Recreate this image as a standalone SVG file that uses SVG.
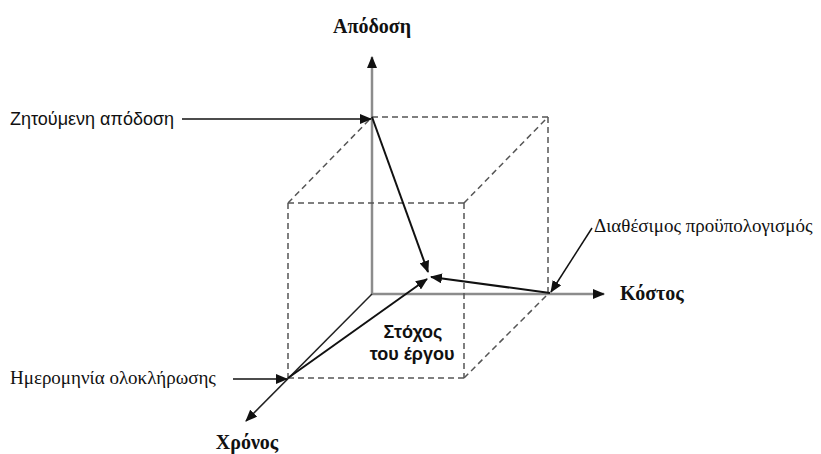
<svg xmlns="http://www.w3.org/2000/svg" width="821" height="454" viewBox="0 0 821 454">
<style>
.bg{fill:#fff}
.axis{stroke:#8c8c8c;stroke-width:2.5;fill:none}
.axisz{stroke:#222;stroke-width:1.5;fill:none}
.dash{stroke:#555;stroke-width:1.5;stroke-dasharray:6 4;fill:none}
.arr{stroke:#111;stroke-width:2;fill:none}
.lbl{stroke:#111;stroke-width:1.5;fill:none}
.ser{font-family:"Liberation Serif","Times New Roman",serif;font-size:19px;fill:#111}
.sans{font-family:"Liberation Sans",Arial,sans-serif;font-size:18px;fill:#111}
.bold{font-family:"Liberation Serif","Times New Roman",serif;font-size:20px;font-weight:bold;fill:#111}
.tgt{font-family:"Liberation Sans",Arial,sans-serif;font-size:18px;font-weight:bold;fill:#111}
</style>
<defs>
<marker id="ah" markerUnits="userSpaceOnUse" markerWidth="12" markerHeight="10" refX="11" refY="5" orient="auto">
<path d="M0,0 L12,5 L0,10 z" fill="#111"/>
</marker>
</defs>
<rect class="bg" x="0" y="0" width="821" height="454"/>
<g id="connectors">
<line class="axis" x1="372" y1="295" x2="372" y2="57" marker-end="url(#ah)"/>
<line class="axis" x1="372" y1="294" x2="604" y2="294" marker-end="url(#ah)"/>
<line class="axisz" x1="372" y1="294" x2="246" y2="421" marker-end="url(#ah)"/>
<line class="dash" x1="372" y1="117" x2="548" y2="117"/>
<line class="dash" x1="548" y1="117" x2="548" y2="294"/>
<line class="dash" x1="288" y1="203" x2="372" y2="117"/>
<line class="dash" x1="464" y1="203" x2="548" y2="117"/>
<line class="dash" x1="464" y1="378" x2="548" y2="294"/>
<line class="dash" x1="288" y1="203" x2="464" y2="203"/>
<line class="dash" x1="288" y1="203" x2="288" y2="378"/>
<line class="dash" x1="464" y1="203" x2="464" y2="378"/>
<line class="dash" x1="288" y1="378" x2="464" y2="378"/>
<line class="arr" x1="372" y1="117" x2="428" y2="272" marker-end="url(#ah)"/>
<line class="arr" x1="550" y1="293" x2="431" y2="277" marker-end="url(#ah)"/>
<line class="arr" x1="288" y1="378" x2="427" y2="279" marker-end="url(#ah)"/>
<line class="lbl" x1="182" y1="119" x2="371" y2="119" marker-end="url(#ah)"/>
<line class="lbl" x1="592" y1="228" x2="551" y2="292" marker-end="url(#ah)"/>
<line class="lbl" x1="233" y1="379" x2="287" y2="379" marker-end="url(#ah)"/>
</g>
<g id="performance"><text class="bold" x="372" y="33" text-anchor="middle">Απόδοση</text></g>
<g id="required-performance"><text class="sans" x="10" y="125">Ζητούμενη απόδοση</text></g>
<g id="budget"><text class="ser" x="594" y="232">Διαθέσιμος προϋπολογισμός</text></g>
<g id="cost"><text class="bold" x="620" y="300">Κόστος</text></g>
<g id="completion-date"><text class="ser" x="10" y="384">Ημερομηνία ολοκλήρωσης</text></g>
<g id="time"><text class="bold" x="247" y="449" text-anchor="middle">Χρόνος</text></g>
<g id="target"><text class="tgt" x="413" y="338" text-anchor="middle">Στόχος</text><text class="tgt" x="412" y="360" text-anchor="middle">του έργου</text></g>
</svg>
